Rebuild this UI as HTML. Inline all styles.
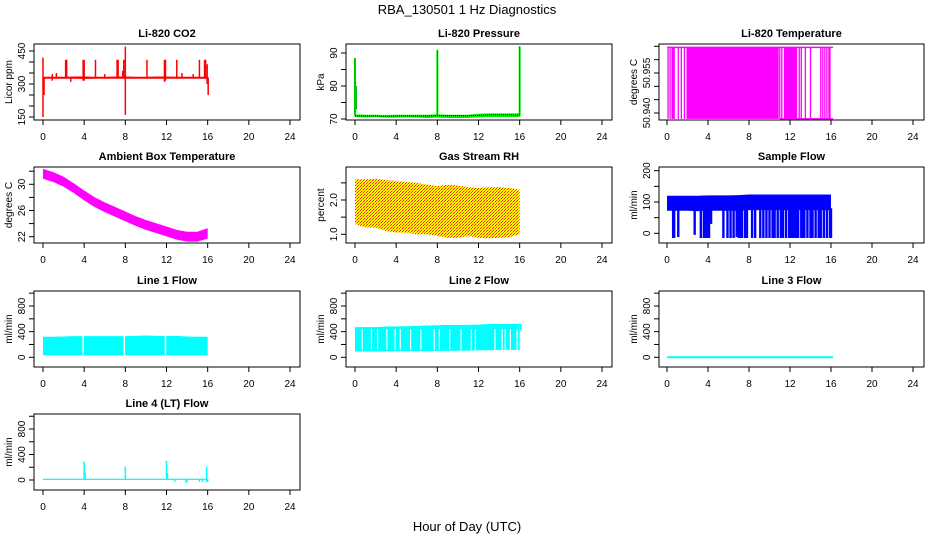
<!DOCTYPE html>
<html><head><meta charset="utf-8"><title>RBA_130501 1 Hz Diagnostics</title>
<style>
html,body{margin:0;padding:0;background:#fff;}
svg{display:block;font-family:"Liberation Sans",Arial,sans-serif;}
.pt{font-weight:bold;font-size:11px;}
.tk{font-size:10px;}
</style></head>
<body>
<svg id="chart" width="936" height="540" viewBox="0 0 936 540" xmlns="http://www.w3.org/2000/svg">
<defs>
<pattern id="rhpat" patternUnits="userSpaceOnUse" width="3" height="3">
<rect width="3" height="3" fill="#ffff00"/>
<rect x="0" y="0" width="1" height="1" fill="#ff2000"/>
<rect x="2" y="1" width="1" height="1" fill="#ff8000"/>
<rect x="1" y="2" width="1" height="1" fill="#ff2000"/>
</pattern>
</defs>
<text x="467" y="14" text-anchor="middle" font-size="13">RBA_130501  1 Hz Diagnostics</text>
<text x="467" y="531" text-anchor="middle" font-size="13">Hour of Day (UTC)</text>
</svg>
<script>
// ---------- DATA ----------
const xTicks = [0,4,8,12,16,20,24];
const hourly = [0,1,2,3,4,5,6,7,8,9,10,11,12,13,14,15,16];

// CO2
const co2Lo = [324,324,324,324,323,324,324,324,324,324,324,324,324,324,324,324,324];
const co2Hi = [333,333,333,334,334,333,333,334,334,333,333,334,334,333,333,333,333];
const co2SpikeHours = [0.0,0.1,0.9,1.3,2.2,2.3,2.7,3.9,4.0,5.1,6.0,7.2,7.3,7.75,7.85,8.0,10.1,11.8,11.9,13.0,13.5,14.6,15.2,15.7,15.8,15.95,16.05];
const co2SpikeLo = [150,250,315,330,330,330,310,315,315,330,330,330,330,330,330,160,330,310,315,330,330,330,330,330,330,300,250];
const co2SpikeHi = [420,330,345,350,410,410,330,410,410,410,345,410,410,360,410,470,410,410,410,410,350,345,410,410,410,390,330];

// Pressure
const presLo = [70.6,70.5,70.6,70.4,70.4,70.5,70.4,70.3,70.4,70.3,70.3,70.3,70.5,70.6,70.6,70.6,70.6];
const presHi = [71.4,71.3,71.3,71.2,71.3,71.3,71.3,71.3,71.4,71.3,71.3,71.3,71.6,71.7,71.7,71.7,71.7];
const presMid = [70.9,70.9,70.9,70.8,70.9,70.9,70.9,70.9,71.0,71.0,71.0,71.0,71.1,71.2,71.2,71.2,71.2];
const presSpikeHours = [0.0,0.1,8.0,16.0];
const presSpikeHi = [88.5,80.0,91.0,92.0];
const presSpikeLo = [71.0,73.0,71.0,71.0];

// Li-820 temperature
const tempHigh = 50.9646;
const tempLow = 50.9378;
const tempFillStart = [1.9,11.4];
const tempFillEnd = [10.9,12.7];
const tempLineHours = [0.1,0.3,0.5,0.6,0.7,1.1,1.4,1.7,11.0,11.2,12.9,13.1,13.5,14.0,15.0,15.2,15.4,15.6,15.8,15.9];

// Ambient box temperature
const ambCenter = [31.6,31.1,30.4,29.4,28.3,27.3,26.5,25.8,25.1,24.4,23.8,23.3,22.8,22.3,22.0,22.0,22.5];
const ambHalf = [0.75,0.75,0.75,0.75,0.75,0.75,0.75,0.75,0.75,0.75,0.75,0.75,0.75,0.75,0.75,0.75,0.8];

// Gas stream RH
const rhLo = [1.3,1.2,1.2,1.1,1.05,1.05,1.0,1.0,0.95,0.9,0.9,0.95,0.9,0.88,0.9,0.92,1.0];
const rhHi = [2.6,2.6,2.62,2.58,2.55,2.52,2.5,2.45,2.4,2.45,2.42,2.38,2.35,2.38,2.38,2.35,2.3];

// Sample flow
const sfLo = [72,72,72,71,72,72,72,72,74,74,74,74,74,74,74,74,74];
const sfHi = [120,120,120,120,121,121,121,122,124,124,124,124,124,124,124,124,124];
const sfDropHours = [0.6,0.7,1.1,2.7,3.3,3.6,3.8,4.0,4.1,4.3,5.5,5.9,6.2,6.5,6.8,7.0,7.1,7.3,7.6,7.8,8.3,8.6,9.1,9.4,9.7,10.0,10.3,10.5,10.8,11.1,11.3,11.6,11.9,12.0,12.2,12.4,12.5,12.7,12.8,13.1,13.3,13.4,13.7,14.0,14.2,14.5,14.8,15.0,15.3,15.6,15.9,16.0];
const sfDropLo = [-15,-15,-12,-5,-15,-15,-15,-15,-15,30,-15,-15,-15,-15,-12,-15,-15,-15,-15,-15,-15,-15,-15,-15,-15,-15,-15,-15,-15,-15,-15,-15,-15,-15,-15,-15,-15,-15,-15,-15,-15,-15,-15,-15,-15,-15,-15,-15,-15,-15,-15,-15];

// Line 1 flow
const l1Lo = [30,30,30,30,30,30,30,30,30,30,30,30,30,30,30,30,30];
const l1Hi = [320,320,325,330,330,330,330,330,330,335,340,335,330,335,325,320,320];
const l1GapHours = [3.9,7.9,11.9];

// Line 2 flow
const l2Lo = [90,90,90,90,95,95,95,95,100,100,105,105,110,110,115,115,115];
const l2Hi = [470,470,470,480,480,485,490,495,500,505,505,505,510,520,520,520,520];
const l2GapHours = [0.7,1.6,2.2,3.1,3.9,4.4,5.4,6.4,7.7,8.2,9.2,10.3,11.3,11.7,13.6,14.3,14.6,15.1,15.75];
const l2TailHour = 16.1;
const l2TailLo = 420;
const l2TailHi = 520;

// Line 3 flow
const l3Val = [0,0,0,0,0,0,0,0,0,0,0,0,0,0,0,0,0];
const l3End = 16.2;

// Line 4 flow
const l4Lo = [0,0,0,0,0,0,0,0,0,0,0,0,0,0,0,0,0];
const l4Hi = [20,20,20,20,20,20,20,20,20,20,20,20,20,20,20,20,20];
const l4SpikeHours = [4.0,4.1,8.0,12.0,12.1,12.8,13.9,14.0,15.2,15.5,15.9,16.0];
const l4SpikeLo = [0,0,0,0,0,-30,-45,-30,-30,-30,-30,-30];
const l4SpikeHi = [290,120,210,300,110,20,20,20,20,20,210,20];

// ---------- LAYOUT ----------
const NS = 'http://www.w3.org/2000/svg';
const svg = document.getElementById('chart');
const colBox = [[34,300],[346,612],[659,924]];
const colX = [[43,290],[355,602],[667,913]];
const rowTop = [44,167,291,414];
const BH = 76;

function mk(tag, attrs, parent){
  const e = document.createElementNS(NS, tag);
  for (const k in attrs) e.setAttribute(k, attrs[k]);
  (parent||svg).appendChild(e);
  return e;
}

function panel(name, col, row, title, ylab, yRef, yTicks, yLabels){
  const g = mk('g', {});
  
  
  const L = colBox[col][0], R = colBox[col][1], T = rowTop[row], B = T + BH;
  const x0 = colX[col][0], x1 = colX[col][1];
  const xs = h => x0 + (x1 - x0) * h / 24;
  const ys = v => T + yRef[1] + (v - yRef[0]) * (yRef[3] - yRef[1]) / (yRef[2] - yRef[0]);
  const box = mk('rect', {x:L, y:T, width:R-L, height:BH, fill:'none', stroke:'#000', 'stroke-width':1}, g);
  
  
  const t = mk('text', {x:(L+R)/2, y:T-7, 'text-anchor':'middle', class:'pt'}, g);
  t.textContent = title;
  
  
  const xa = mk('g', {}, g);
  
  
  mk('line', {x1:xs(xTicks[0]), x2:xs(xTicks[xTicks.length-1]), y1:B, y2:B, stroke:'#000'}, xa);
  xTicks.forEach(v => {
    mk('line', {x1:xs(v), x2:xs(v), y1:B, y2:B+5, stroke:'#000'}, xa);
    const tl = mk('text', {x:xs(v), y:B+20, 'text-anchor':'middle', class:'tk'}, xa);
    tl.textContent = v;
    
    
  });
  const ya = mk('g', {}, g);
  
  
  yTicks.forEach((v,i) => {
    mk('line', {x1:L-5, x2:L, y1:ys(v), y2:ys(v), stroke:'#000'}, ya);
    if (yLabels[i] !== '') {
      const yl = mk('text', {x:L-9, y:ys(v), 'text-anchor':'middle', class:'tk', transform:`rotate(-90 ${L-9} ${ys(v)})`}, ya);
      yl.textContent = yLabels[i];
      
      
    }
  });
  const yt = mk('text', {x:L-22, y:(T+B)/2, 'text-anchor':'middle', class:'tk', transform:`rotate(-90 ${L-22} ${(T+B)/2})`}, ya);
  yt.textContent = ylab;
  
  
  const d = mk('g', {}, g);
  
  
  return {xs, ys, g:d};
}

function band(p, hours, lo, hi, fill){
  let pts = hours.map((h,i) => `${p.xs(h)},${p.ys(hi[i])}`);
  for (let i = hours.length-1; i >= 0; i--) pts.push(`${p.xs(hours[i])},${p.ys(lo[i])}`);
  const e = mk('polygon', {points:pts.join(' '), fill:fill, stroke:'none'}, p.g);
  
  
  return e;
}
function vline(p, h, lo, hi, color, w){
  const e = mk('line', {x1:p.xs(h), x2:p.xs(h), y1:p.ys(lo), y2:p.ys(hi), stroke:color, 'stroke-width':w||1.5}, p.g);
  
  
  return e;
}
function poly(p, hours, vals, color, w, dash){
  const a = {points:hours.map((h,i)=>`${p.xs(h)},${p.ys(vals[i])}`).join(' '), fill:'none', stroke:color, 'stroke-width':w};
  if (dash) a['stroke-dasharray'] = dash;
  const e = mk('polyline', a, p.g);
  
  
  return e;
}

let p = panel('co2', 0, 0, 'Li-820 CO2', 'Licor ppm', [150,73,450,7], [150,200,250,300,350,400,450], ['150','','','300','','','450']);
band(p, hourly, co2Lo, co2Hi, '#ff0000');
co2SpikeHours.forEach((h,i) => vline(p, h, co2SpikeLo[i], co2SpikeHi[i], '#ff0000', 1.5));

p = panel('pressure', 1, 0, 'Li-820 Pressure', 'kPa', [70,75,90,9], [70,75,80,85,90], ['70','','80','','90']);
band(p, hourly, presLo, presHi, '#00ee00');
poly(p, hourly, presMid, '#000', 1, '1,1');
presSpikeHours.forEach((h,i) => { vline(p, h, presSpikeLo[i], presSpikeHi[i], '#00ee00', 2); vline(p, h, presSpikeLo[i], presSpikeHi[i], '#000', 0.6).setAttribute('stroke-dasharray','1,1'); });

p = panel('li820-temperature', 2, 0, 'Li-820 Temperature', 'degrees C', [50.940,69,50.955,29], [50.940,50.945,50.950,50.955,50.960,50.965], ['50.940','','','50.955','','']);
poly(p, [0,16.2], [tempHigh,tempHigh], '#ff00ff', 1.5);
poly(p, [11,16.2], [tempLow,tempLow], '#ff00ff', 1.5);
tempFillStart.forEach((s,i) => {
  const e = mk('rect', {x:p.xs(s), y:p.ys(tempHigh), width:p.xs(tempFillEnd[i])-p.xs(s), height:p.ys(tempLow)-p.ys(tempHigh), fill:'#ff00ff'}, p.g);
  
  
});
tempLineHours.forEach(h => vline(p, h, tempLow, tempHigh, '#ff00ff', 1.3));

p = panel('ambient-box-temperature', 0, 1, 'Ambient Box Temperature', 'degrees C', [22,69.7,30,17.3], [22,24,26,28,30,32], ['22','','26','','30','']);
band(p, hourly, ambCenter.map((c,i)=>c-ambHalf[i]), ambCenter.map((c,i)=>c+ambHalf[i]), '#ff00ff');

p = panel('gas-stream-rh', 1, 1, 'Gas Stream RH', 'percent', [1.0,67.3,2.0,33], [1.0,1.5,2.0,2.5], ['1.0','','2.0','']);
band(p, hourly, rhLo, rhHi, 'url(#rhpat)');

p = panel('sample-flow', 2, 1, 'Sample Flow', 'ml/min', [0,66.3,200,3.7], [0,50,100,150,200], ['0','','100','','200']);
band(p, hourly, sfLo, sfHi, '#0000ff');
sfDropHours.forEach((h,i) => vline(p, h, sfDropLo[i], 80, '#0000ff', 2.4));

p = panel('line-1-flow', 0, 2, 'Line 1 Flow', 'ml/min', [0,66.3,800,15], [0,200,400,600,800,1000], ['0','','400','','800','']);
band(p, hourly, l1Lo, l1Hi, '#00ffff');
l1GapHours.forEach(h => vline(p, h, 20, 360, '#ffffff', 1.5));

p = panel('line-2-flow', 1, 2, 'Line 2 Flow', 'ml/min', [0,66.3,800,15], [0,200,400,600,800,1000], ['0','','400','','800','']);
band(p, hourly, l2Lo, l2Hi, '#00ffff');
l2GapHours.forEach(h => vline(p, h, 120, 440, '#ffffff', 1.2));
vline(p, l2TailHour, l2TailLo, l2TailHi, '#00ffff', 2);

p = panel('line-3-flow', 2, 2, 'Line 3 Flow', 'ml/min', [0,66.3,800,15], [0,200,400,600,800,1000], ['0','','400','','800','']);
poly(p, hourly.map(h => h * l3End / 16), l3Val, '#00ffff', 2);

p = panel('line-4-flow', 0, 3, 'Line 4 (LT) Flow', 'ml/min', [0,66,800,15], [0,200,400,600,800,1000], ['0','','400','','800','']);
band(p, hourly, l4Lo, l4Hi, '#00ffff');
l4SpikeHours.forEach((h,i) => vline(p, h, l4SpikeLo[i], l4SpikeHi[i], '#00ffff', 1.5));
</script>
</body></html>
